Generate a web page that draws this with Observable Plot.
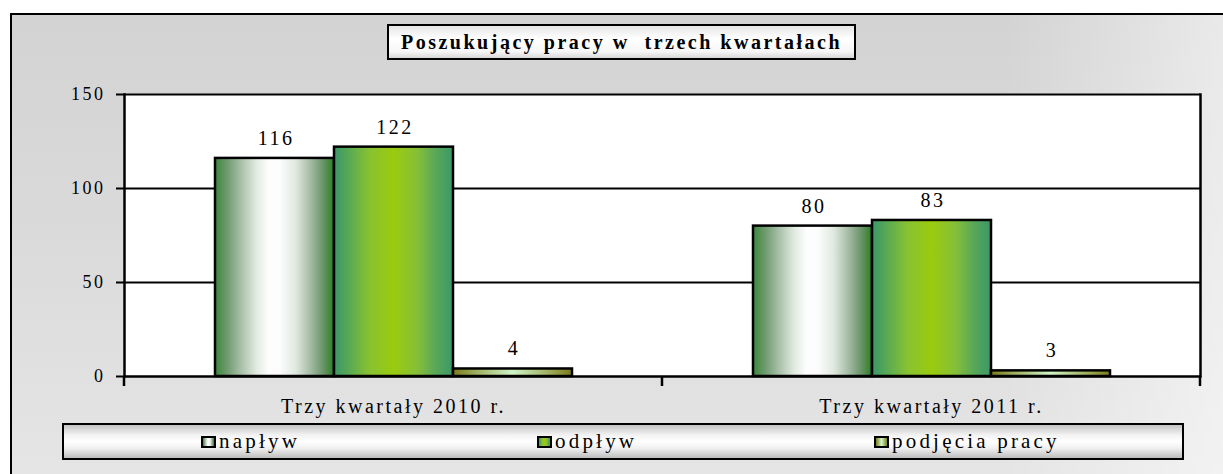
<!DOCTYPE html>
<html><head><meta charset="utf-8">
<script src="https://cdn.jsdelivr.net/npm/d3@7"></script>
<script src="https://cdn.jsdelivr.net/npm/@observablehq/plot@0.6"></script>
<style>
html,body{margin:0;padding:0;width:1223px;height:474px;overflow:hidden;background:#fff;font-family:"Liberation Serif","DejaVu Serif",serif;color:#000;}
#frame{position:absolute;left:10px;top:13px;width:1240px;height:480px;border-top:2px solid #000;border-left:2px solid #000;
  background:linear-gradient(to right,rgba(255,255,255,0) 80%,rgba(255,255,255,0.55) 99%),linear-gradient(to bottom,#d3d3d3 0%,#d9d9d9 40%,#e6e6e6 100%);}
#chart{position:absolute;left:0;top:0;}
#title{position:absolute;left:387px;top:24px;width:465px;height:32px;border:2px solid #000;background:linear-gradient(to bottom,#e6e6e6 0%,#ffffff 40%,#f6f6f6 80%,#d8d8d8 100%);font-family:"Liberation Serif","DejaVu Serif",serif;font-weight:bold;font-size:20px;line-height:33px;text-align:center;letter-spacing:2.5px;white-space:pre;}
#legend{position:absolute;left:62px;top:423px;width:1118px;height:33px;border:2px solid #000;background:linear-gradient(to bottom,#c4c4c4 0%,#f2f2f2 30%,#ffffff 50%,#f0f0f0 70%,#bdbdbd 100%);font-family:"Liberation Serif","DejaVu Serif",serif;font-size:21px;}
.item{position:absolute;top:0;height:33px;line-height:33px;letter-spacing:3.2px;white-space:nowrap;}
.sw{display:inline-block;width:11px;height:8px;border:2px solid #000;vertical-align:0px;margin-right:3px;}
</style>
</head><body>
<div id="frame"></div>
<div id="chart"></div>
<div id="title"></div>
<div id="legend"></div>
<script>
const titleText = "Poszukujący pracy w  trzech kwartałach";
const categories = ["Trzy kwartały 2010 r.", "Trzy kwartały 2011 r."];
const seriesNames = ["napływ", "odpływ", "podjęcia pracy"];
const values2010 = [116, 122, 4];
const values2011 = [80, 83, 3];
const yTicks = [0, 50, 100, 150];
const gradIds = ["gNaplyw", "gOdplyw", "gPodjecia"];
const gradStops = [
  [[0,"#3b873b"],[0.1,"#6e9a6e"],[0.22,"#a9c0a9"],[0.35,"#e2ebe2"],[0.45,"#fdfdfd"],[0.55,"#fbfcfb"],[0.68,"#dfe8df"],[0.8,"#a6bca6"],[0.9,"#6f976f"],[1,"#2a7f22"]],
  [[0,"#3a9768"],[0.15,"#5fad50"],[0.3,"#88c230"],[0.5,"#9acb0e"],[0.7,"#86bf38"],[0.85,"#5aa858"],[1,"#3a9868"]],
  [[0,"#7a7a1a"],[0.2,"#a0b060"],[0.5,"#d0f5c8"],[0.8,"#a0b060"],[1,"#7a7a1a"]]
];

const valuesByCat = [values2010, values2011];
const rows = [];
categories.forEach((c, i) => seriesNames.forEach((s, j) => rows.push({cat: c, series: s, value: valuesByCat[i][j]})));

const font = '"Liberation Serif","DejaVu Serif",serif';
const chart = Plot.plot({
  width: 1223, height: 474,
  marginLeft: 124, marginRight: 23, marginTop: 94, marginBottom: 98,
  style: {background: "transparent", fontFamily: font, fontSize: "18px", letterSpacing: "2.5px", color: "#000", overflow: "visible"},
  fx: {domain: categories, padding: 0, axis: null},
  x: {domain: seriesNames, paddingInner: 0, paddingOuter: 0.76, axis: null},
  y: {domain: [0, 150], axis: null},
  color: {type: "ordinal", domain: seriesNames, range: gradIds.map(id => `url(#${id})`)},
  marks: [
    Plot.frame({fill: "white", stroke: "white", strokeWidth: 1}),
    Plot.gridY(yTicks, {stroke: "#000", strokeOpacity: 1, strokeWidth: 2}),
    Plot.barY(rows, {fx: "cat", x: "series", y: "value", fill: "series", stroke: "#000", strokeWidth: 2.5}),
    Plot.ruleY([0], {stroke: "#000", strokeWidth: 2}),
    Plot.frame({anchor: "left", facetAnchor: "left", stroke: "#000", strokeWidth: 2.5}),
    Plot.frame({anchor: "right", facetAnchor: "right", stroke: "#000", strokeWidth: 2.5}),
    Plot.axisY(yTicks, {anchor: "left", label: null, tickSize: 8, tickPadding: 11, strokeWidth: 2, fontSize: 18, fontFamily: font, tickFormat: d => String(d)}),
    Plot.axisFx({anchor: "bottom", label: null, tickSize: 0, tickPadding: 22, fontSize: 20, fontFamily: font}),
    Plot.text(rows, {fx: "cat", x: "series", y: "value", text: "value", dy: -20, dx: 1, fontSize: 20, fontFamily: font})
  ]
});

const svg = d3.select(chart);
const defs = svg.insert("defs", ":first-child");
gradIds.forEach((id, k) => {
  const g = defs.append("linearGradient").attr("id", id).attr("x1", 0).attr("x2", 1).attr("y1", 0).attr("y2", 0);
  gradStops[k].forEach(([o, c]) => g.append("stop").attr("offset", o).attr("stop-color", c));
});
// boundary ticks below the category axis, from the library's fx and y scales
const fxS = chart.scale("fx"), yS = chart.scale("y");
const y0 = yS.apply(0);
const edges = categories.map(c => fxS.apply(c)).concat([fxS.apply(categories[categories.length - 1]) + fxS.bandwidth]);
svg.append("g").selectAll("line").data(edges).join("line")
  .attr("x1", d => d).attr("x2", d => d).attr("y1", y0).attr("y2", y0 + 10)
  .attr("stroke", "#000").attr("stroke-width", 2.5);

document.getElementById("chart").appendChild(chart);
document.getElementById("title").textContent = titleText;

const legendLefts = [137, 473, 810];
const swatchCss = gradIds.map((id, k) => "linear-gradient(to right," + gradStops[k].map(([o, c]) => `${c} ${o * 100}%`).join(",") + ")");
const legend = document.getElementById("legend");
seriesNames.forEach((s, k) => {
  const it = document.createElement("div");
  it.className = "item";
  it.style.left = legendLefts[k] + "px";
  const sw = document.createElement("span");
  sw.className = "sw";
  sw.style.background = swatchCss[k];
  it.appendChild(sw);
  it.appendChild(document.createTextNode(s));
  legend.appendChild(it);
});
</script>
</body></html>
